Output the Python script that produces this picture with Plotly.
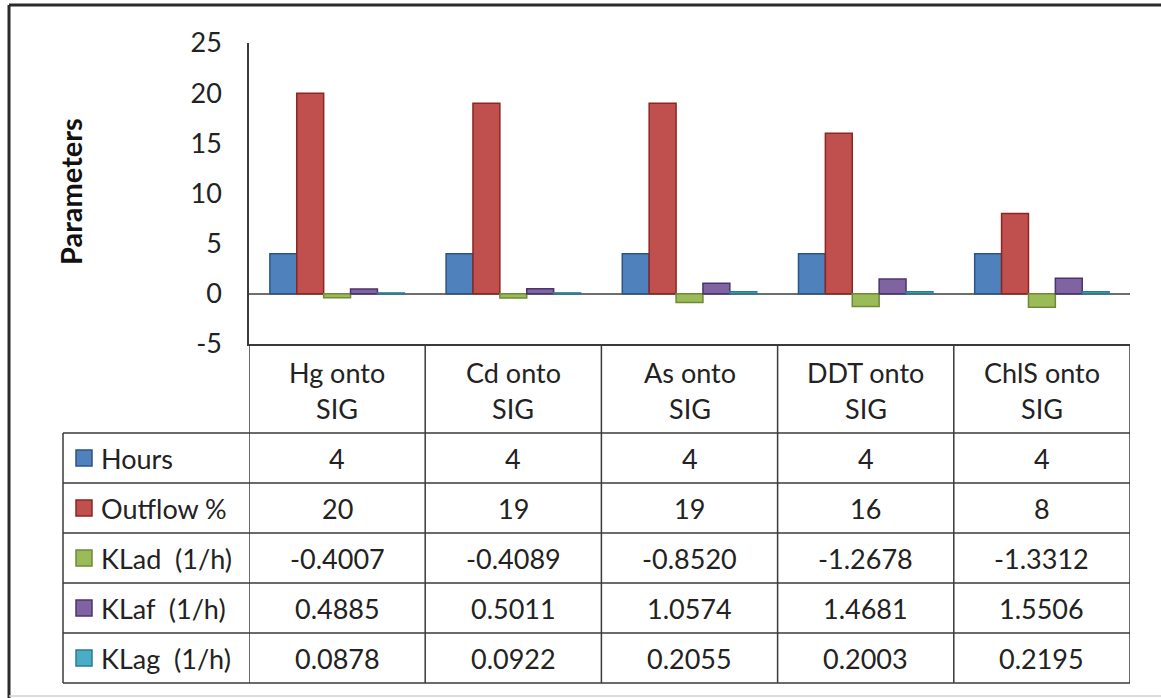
import plotly.graph_objects as go

# ---------------- data ----------------
categories = ["Hg onto\nSIG", "Cd onto\nSIG", "As onto\nSIG", "DDT onto\nSIG", "ChlS onto\nSIG"]
series_names = ["Hours", "Outflow\u00a0%", "KLad\u00a0 (1/h)", "KLaf\u00a0 (1/h)", "KLag\u00a0 (1/h)"]
hours = [4, 4, 4, 4, 4]
outflow = [20, 19, 19, 16, 8]
klad = [-0.4007, -0.4089, -0.8520, -1.2678, -1.3312]
klaf = [0.4885, 0.5011, 1.0574, 1.4681, 1.5506]
klag = [0.0878, 0.0922, 0.2055, 0.2003, 0.2195]
table_text = [
    ["4", "4", "4", "4", "4"],
    ["20", "19", "19", "16", "8"],
    ["-0.4007", "-0.4089", "-0.8520", "-1.2678", "-1.3312"],
    ["0.4885", "0.5011", "1.0574", "1.4681", "1.5506"],
    ["0.0878", "0.0922", "0.2055", "0.2003", "0.2195"],
]
y_ticks = [-5, 0, 5, 10, 15, 20, 25]

fills = ["#4F81BD", "#C0504D", "#9BBB59", "#8064A2", "#4BACC6"]
edges = ["#2C5486", "#8B2624", "#6E8A35", "#4A3470", "#2C7C92"]

W, H = 1161, 698
def px(x):
    return x / W
def py(y):
    return 1 - y / H

FONT = "Lato, 'Open Sans', sans-serif"
TXT = 27
xidx = list(range(len(categories)))

fig = go.Figure()
for name, vals, fc, ec in zip(series_names, [hours, outflow, klad, klaf, klag], fills, edges):
    fig.add_trace(go.Bar(x=xidx, y=vals, name=name,
                         marker=dict(color=fc, line=dict(color=ec, width=1.5)),
                         showlegend=False))

shapes = []
annotations = []
line_col = "#3a3a3a"

# table geometry (pixels)
top_plot = 344
header_bottom = 433
row_h = 50
n_rows = len(series_names)
table_bottom = header_bottom + row_h * n_rows
left_legend = 63
x_axis_px = 249
right_px = 1130

# vertical column lines (in data x-coordinates)
for k in range(len(categories) + 1):
    shapes.append(dict(type="line", xref="x", yref="paper", x0=k - 0.5, x1=k - 0.5,
                       y0=py(top_plot), y1=py(table_bottom),
                       line=dict(color=line_col, width=1.5)))
# legend column left edge
shapes.append(dict(type="line", xref="paper", yref="paper", x0=px(left_legend), x1=px(left_legend),
                   y0=py(header_bottom), y1=py(table_bottom), line=dict(color=line_col, width=1.5)))
# horizontal lines
for r in range(n_rows + 1):
    yy = header_bottom + r * row_h
    shapes.append(dict(type="line", xref="paper", yref="paper", x0=px(left_legend), x1=px(right_px),
                       y0=py(yy), y1=py(yy), line=dict(color=line_col, width=1.5)))

# header text
for k, cat in enumerate(categories):
    l1, l2 = cat.split("\n")
    annotations.append(dict(x=k, y=py(372), xref="x", yref="paper", text=l1, showarrow=False,
                            font=dict(family=FONT, size=TXT, color="#222"), xanchor="center", yanchor="middle"))
    annotations.append(dict(x=k, y=py(408), xref="x", yref="paper", text=l2, showarrow=False,
                            font=dict(family=FONT, size=TXT, color="#222"), xanchor="center", yanchor="middle"))

# rows
for r, name in enumerate(series_names):
    yc = header_bottom + r * row_h + row_h / 2
    shapes.append(dict(type="rect", xref="paper", yref="paper", x0=px(76), x1=px(92),
                       y0=py(yc + 8), y1=py(yc - 8), fillcolor=fills[r],
                       line=dict(color=edges[r], width=1.5)))
    annotations.append(dict(x=px(99), y=py(yc), xref="paper", yref="paper", text=name, showarrow=False,
                            font=dict(family=FONT, size=TXT, color="#222"), xanchor="left", yanchor="middle"))
    for k in range(len(categories)):
        annotations.append(dict(x=k, y=py(yc), xref="x", yref="paper", text=table_text[r][k],
                                showarrow=False, font=dict(family=FONT, size=TXT, color="#222"),
                                xanchor="center", yanchor="middle"))

# y title
annotations.append(dict(x=px(70), y=py(192), xref="paper", yref="paper", text="<b>Parameters</b>",
                        textangle=-90, showarrow=False, font=dict(family=FONT, size=29, color="#111"),
                        xanchor="center", yanchor="middle"))

# outer frame
shapes.append(dict(type="line", xref="paper", yref="paper", x0=px(9), x1=1.0, y0=py(5), y1=py(5),
                   line=dict(color="#2b2b2b", width=3)))
shapes.append(dict(type="line", xref="paper", yref="paper", x0=px(9), x1=px(9), y0=py(5), y1=py(698),
                   line=dict(color="#2b2b2b", width=3)))
shapes.append(dict(type="line", xref="paper", yref="paper", x0=px(9), x1=1.0, y0=py(696), y1=py(696),
                   line=dict(color="#cfcfcf", width=1.5)))

fig.update_layout(
    width=W, height=H,
    margin=dict(l=0, r=0, t=0, b=0, pad=0, autoexpand=False),
    paper_bgcolor="white", plot_bgcolor="white",
    barmode="group", bargap=0.237, bargroupgap=0,
    shapes=shapes, annotations=annotations,
    showlegend=False,
    xaxis=dict(domain=[px(x_axis_px), px(right_px)], range=[-0.5, len(categories) - 0.5],
               showticklabels=False, ticks="", showgrid=False, zeroline=False, automargin=False,
               showline=True, linecolor=line_col, linewidth=1.5),
    yaxis=dict(domain=[py(top_plot), py(43)], range=[-5, 25], tickvals=y_ticks,
               ticktext=[str(v) for v in y_ticks], showgrid=False, automargin=False,
               zeroline=True, zerolinecolor="#6e6e6e", zerolinewidth=1.5,
               showline=True, linecolor=line_col, linewidth=1.5, ticks="",
               ticklabelstandoff=20,
               tickfont=dict(family=FONT, size=TXT, color="#222")),
)

fig.write_html("out.html")
